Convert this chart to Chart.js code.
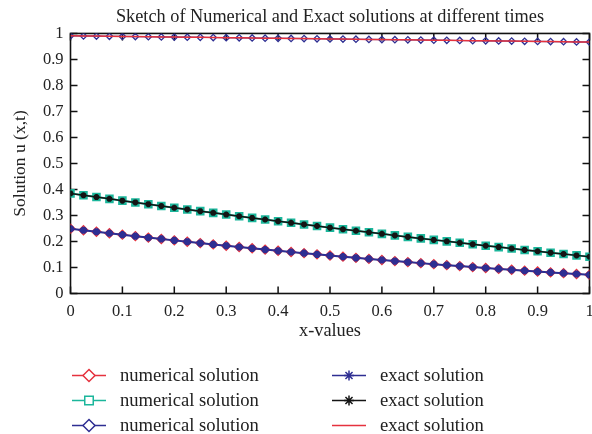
<!DOCTYPE html>
<html>
<head>
<meta charset="utf-8">
<script src="https://cdn.jsdelivr.net/npm/chart.js@4/dist/chart.umd.min.js"></script>
<style>
html,body{margin:0;padding:0;background:#fff;}
#wrap{width:592px;height:434px;}
</style>
</head>
<body>
<div id="wrap"><canvas id="c" width="592" height="434"></canvas></div>
<script>
// ---------- data ----------
const xValues = [0,0.025,0.05,0.075,0.1,0.125,0.15,0.175,0.2,0.225,0.25,0.275,0.3,0.325,0.35,0.375,0.4,0.425,0.45,0.475,0.5,0.525,0.55,0.575,0.6,0.625,0.65,0.675,0.7,0.725,0.75,0.775,0.8,0.825,0.85,0.875,0.9,0.925,0.95,0.975,1];

// top curve (numerical: navy diamonds, exact: red line)
const uTop = [0.9910,0.9904,0.9898,0.9892,0.9886,0.9880,0.9874,0.9868,0.9862,0.9856,0.9850,0.9844,0.9838,0.9832,0.9826,0.9820,0.9814,0.9808,0.9802,0.9796,0.9790,0.9784,0.9778,0.9772,0.9766,0.9760,0.9754,0.9748,0.9742,0.9736,0.9730,0.9724,0.9718,0.9712,0.9706,0.9700,0.9694,0.9688,0.9682,0.9676,0.9670];

// middle curve (numerical: teal squares, exact: black stars)
const uMid = [0.3850,0.3779,0.3709,0.3640,0.3571,0.3502,0.3434,0.3366,0.3299,0.3233,0.3167,0.3101,0.3036,0.2971,0.2907,0.2844,0.2781,0.2718,0.2656,0.2594,0.2533,0.2472,0.2412,0.2353,0.2294,0.2235,0.2177,0.2119,0.2062,0.2005,0.1949,0.1893,0.1838,0.1784,0.1730,0.1676,0.1623,0.1570,0.1518,0.1466,0.1415];

// bottom curve (numerical: red diamonds, exact: navy stars)
const uLow = [0.2490,0.2432,0.2374,0.2317,0.2261,0.2205,0.2151,0.2097,0.2043,0.1991,0.1939,0.1888,0.1837,0.1788,0.1739,0.1690,0.1643,0.1596,0.1550,0.1505,0.1460,0.1416,0.1373,0.1331,0.1289,0.1248,0.1208,0.1168,0.1129,0.1091,0.1054,0.1017,0.0981,0.0946,0.0912,0.0878,0.0845,0.0812,0.0781,0.0750,0.0720];

const xTicks = [0,0.1,0.2,0.3,0.4,0.5,0.6,0.7,0.8,0.9,1];
const yTicks = [0,0.1,0.2,0.3,0.4,0.5,0.6,0.7,0.8,0.9,1];

const numLabel = 'numerical solution';
const exactLabel = 'exact solution';

// ---------- styling ----------
const RED = '#e5323e', TEAL = '#1bb69b', NAVY = '#2e2e92', BLACK = '#141414';
const FONT = "'Liberation Serif', 'DejaVu Serif', serif";
const TXT = '#222';
const PLOT_RIGHT = 589.5;

const pts = arr => xValues.map((x, i) => ({x, y: arr[i]}));

const datasets = [
  // numerical solutions (drawn below)
  {label: numLabel, data: pts(uLow), borderColor: RED, borderWidth: 1.2, pointStyle: 'rectRot',
   pointRadius: 4.5, pointBorderWidth: 1.3, pointBorderColor: RED, pointBackgroundColor: 'rgba(0,0,0,0)', order: 2,
   legend: {col: 0, row: 0, radius: 6}},
  {label: numLabel, data: pts(uMid), borderColor: TEAL, borderWidth: 2, pointStyle: 'rect',
   pointRadius: 4.5, pointBorderWidth: 2.2, pointBorderColor: TEAL, pointBackgroundColor: 'rgba(27,182,155,0.55)', order: 2,
   legend: {col: 0, row: 1, radius: 5}},
  {label: numLabel, data: pts(uTop), borderColor: NAVY, borderWidth: 1.2, pointStyle: 'rectRot',
   pointRadius: 3.2, pointBorderWidth: 1.3, pointBorderColor: NAVY, pointBackgroundColor: 'rgba(0,0,0,0)', order: 2,
   legend: {col: 0, row: 2, radius: 6}},
  // exact solutions (drawn on top)
  {label: exactLabel, data: pts(uLow), borderColor: NAVY, borderWidth: 2, pointStyle: 'star',
   pointRadius: 3.6, pointBorderWidth: 3, pointBorderColor: NAVY, pointBackgroundColor: NAVY, order: 1,
   legend: {col: 1, row: 0, radius: 5}},
  {label: exactLabel, data: pts(uMid), borderColor: BLACK, borderWidth: 1.5, pointStyle: 'star',
   pointRadius: 3, pointBorderWidth: 2, pointBorderColor: BLACK, pointBackgroundColor: BLACK, order: 1,
   legend: {col: 1, row: 1, radius: 5}},
  {label: exactLabel, data: pts(uTop), borderColor: RED, borderWidth: 1.5, pointRadius: 0, order: 1,
   legend: {col: 1, row: 2, radius: 0}}
];
datasets.forEach(d => { d.fill = false; d.tension = 0; d.pointHoverRadius = d.pointRadius; });

// ---------- plugins ----------
const tickLen = 7;
const framePlugin = {
  id: 'frame',
  afterLayout(chart) {
    const a = chart.chartArea, x = chart.scales.x;
    // let the plot box run to the right edge like the reference
    a.right = PLOT_RIGHT; a.width = a.right - a.left;
    x.right = PLOT_RIGHT; x.width = x.right - x.left;
    x.configure();
    const t = chart.titleBlock;
    if (t) { t.left = a.left; t.right = a.right; }
  },
  beforeDatasetsDraw(chart) {
    const {ctx, chartArea: a, scales: {x, y}} = chart;
    ctx.save();
    ctx.strokeStyle = '#111';
    ctx.lineWidth = 1.5;
    ctx.beginPath();
    xTicks.forEach(v => {
      const px = x.getPixelForValue(v);
      ctx.moveTo(px, a.bottom); ctx.lineTo(px, a.bottom - tickLen);
      ctx.moveTo(px, a.top); ctx.lineTo(px, a.top + tickLen);
    });
    yTicks.forEach(v => {
      const py = y.getPixelForValue(v);
      ctx.moveTo(a.left, py); ctx.lineTo(a.left + tickLen, py);
      ctx.moveTo(a.right, py); ctx.lineTo(a.right - tickLen, py);
    });
    ctx.stroke();
    ctx.lineWidth = 1.6;
    ctx.strokeRect(a.left, a.top, a.right - a.left, a.bottom - a.top);
    ctx.restore();
  }
};

const legendPlugin = {
  id: 'twoColLegend',
  afterDraw(chart, args, opts) {
    const {ctx} = chart;
    ctx.save();
    chart.data.datasets.forEach(d => {
      const L = d.legend;
      const x0 = opts.colX[L.col], y0 = opts.rowY[L.row];
      ctx.strokeStyle = d.borderColor;
      ctx.lineWidth = 1.4;
      ctx.beginPath();
      ctx.moveTo(x0, y0); ctx.lineTo(x0 + opts.sampleW, y0);
      ctx.stroke();
      if (L.radius > 0) {
        ctx.fillStyle = '#fff';
        ctx.strokeStyle = d.borderColor;
        ctx.lineWidth = 1.5;
        ctx.beginPath();
        const r = L.radius, cx = x0 + opts.sampleW / 2;
        if (d.pointStyle === 'rectRot') {
          ctx.moveTo(cx, y0 - r); ctx.lineTo(cx + r, y0); ctx.lineTo(cx, y0 + r); ctx.lineTo(cx - r, y0); ctx.closePath();
          ctx.fill(); ctx.stroke();
        } else if (d.pointStyle === 'rect') {
          const s = r * 0.85;
          ctx.rect(cx - s, y0 - s, 2 * s, 2 * s); ctx.fill(); ctx.stroke();
        } else if (d.pointStyle === 'star') {
          for (let k = 0; k < 4; k++) {
            const ang = k * Math.PI / 4;
            ctx.moveTo(cx - r * Math.sin(ang), y0 - r * Math.cos(ang));
            ctx.lineTo(cx + r * Math.sin(ang), y0 + r * Math.cos(ang));
          }
          ctx.stroke();
        }
      }
      ctx.fillStyle = TXT;
      ctx.font = opts.font;
      ctx.textAlign = 'left';
      ctx.textBaseline = 'middle';
      ctx.fillText(d.label, x0 + opts.sampleW + opts.gap, y0 + 1);
    });
    ctx.restore();
  }
};

// ---------- chart ----------
new Chart(document.getElementById('c'), {
  type: 'line',
  data: {datasets},
  options: {
    responsive: false,
    animation: false,
    events: [],
    layout: {padding: {left: 0, right: 2, top: 0, bottom: 90.5}},
    plugins: {
      legend: {display: false},
      tooltip: {enabled: false},
      title: {
        display: true,
        text: 'Sketch of Numerical and Exact solutions at different times',
        color: TXT,
        font: {family: FONT, size: 18.3, weight: 'normal'},
        padding: {top: 6.2, bottom: 5.3}
      },
      twoColLegend: {
        colX: [72, 332], rowY: [375.5, 400.5, 425.5], sampleW: 34, gap: 14,
        font: "18.6px 'Liberation Serif', 'DejaVu Serif', serif"
      }
    },
    scales: {
      x: {
        type: 'linear', min: 0, max: 1,
        afterFit(s) { s.height = 50; },
        afterBuildTicks(s) { s.ticks = xTicks.map(v => ({value: v})); },
        grid: {display: false, drawTicks: false},
        border: {display: false},
        ticks: {color: TXT, font: {family: FONT, size: 16.5}, padding: 8, maxRotation: 0, autoSkip: false,
                callback: v => String(v)},
        title: {display: true, text: 'x-values', color: TXT, font: {family: FONT, size: 18.3}, padding: {top: 0, bottom: 1.7}}
      },
      y: {
        type: 'linear', min: 0, max: 1,
        afterFit(s) { s.width = 70.5; },
        afterBuildTicks(s) { s.ticks = yTicks.map(v => ({value: v})); },
        grid: {display: false, drawTicks: false},
        border: {display: false},
        ticks: {color: TXT, font: {family: FONT, size: 16.5}, padding: 7, autoSkip: false,
                callback: v => String(v)},
        title: {display: true, text: 'Solution u (x,t)', color: TXT, font: {family: FONT, size: 17.5}, padding: {top: 9.5, bottom: 0}}
      }
    }
  },
  plugins: [framePlugin, legendPlugin]
});
</script>
</body>
</html>
